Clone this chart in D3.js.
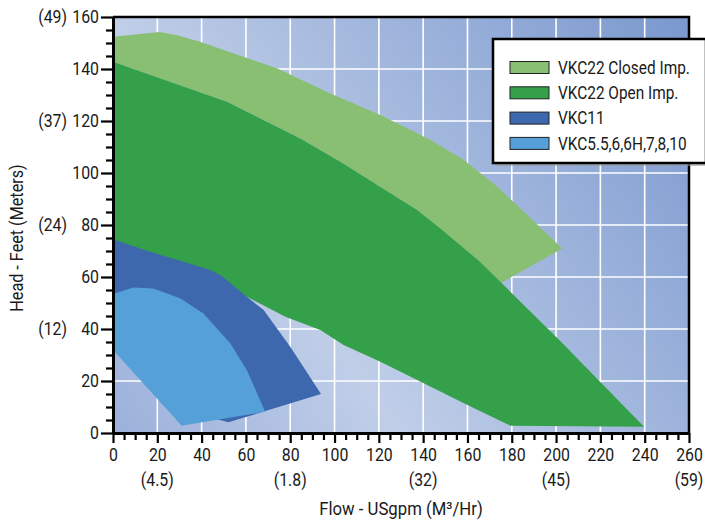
<!DOCTYPE html>
<html>
<head>
<meta charset="utf-8">
<script src="https://cdn.jsdelivr.net/npm/d3@7"></script>
<style>
  html, body { margin: 0; padding: 0; background: #ffffff; }
  svg { display: block; }
  text { font-family: "Roboto", "Liberation Sans", sans-serif; fill: #1a1a1a; }
</style>
</head>
<body>
<svg id="chart" width="705" height="525"></svg>
<script>
// ---------- data ----------
const seriesNames = ["VKC22 Closed Imp.", "VKC22 Open Imp.", "VKC11", "VKC5.5,6,6H,7,8,10"];
const seriesColors = ["#88bf72", "#35a04a", "#3d68ae", "#55a0d8"];

// polygons as [flow (USgpm), head (feet)]
const closedImp = [[0,152.4],[21,154.2],[29,153],[39.3,150.5],[58.8,144.7],[74,140.3],[98.1,130.6],
  [120.7,122.3],[143.3,112.7],[158.4,105],[173.5,94.7],[202.8,71],[175,57.6],
  [165.5,66],[137.3,85.8],[102.6,104.3],[84.5,113.3],[51.4,127.4],[0,142.8]];
const openImp = [[0,142.8],[51.4,127.4],[84.5,113.3],[102.6,104.3],[137.3,85.8],[148,78.5],[165.5,66],
  [202,35.3],[239.7,2.4],[179.5,2.8],[160,10.8],[120.7,27.4],[104.1,33.8],[93.6,39.6],[77.8,44.7],
  [60.4,52.4],[40,60],[0,72]];
const vkc11 = [[0,74.5],[16.7,69.7],[31.8,65.9],[43.9,62.7],[49.1,60.4],[60.4,52.4],[68,47.3],
  [80,33.2],[93.9,15],[52.1,4.1],[35,8],[0,40]];
const vkc55 = [[0,53.5],[9.2,56],[18.2,55.6],[30.3,51.8],[40.8,46],[52.9,34.5],[60.4,24.2],
  [68.7,8.2],[31,2.8],[0,31.9]];
const polygons = [closedImp, openImp, vkc11, vkc55];

const xTicks = [0,20,40,60,80,100,120,140,160,180,200,220,240,260];
const yTicks = [0,20,40,60,80,100,120,140,160];
const xMetric = [[20,"(4.5)"],[80,"(1.8)"],[140,"(32)"],[200,"(45)"],[260,"(59)"]];
const yMetric = [[160,"(49)"],[120,"(37)"],[80,"(24)"],[40,"(12)"]];
const xTitle = "Flow - USgpm (M³/Hr)";
const yTitle = "Head - Feet (Meters)";

// ---------- helpers ----------
// narrow the glyphs horizontally (the reference uses a condensed face)
function condense(sel, f) {
  sel.each(function() {
    const t = d3.select(this);
    const tx = +t.attr("x") || 0, ty = +t.attr("y") || 0;
    const prev = t.attr("transform") || "";
    t.attr("x", 0).attr("y", 0)
     .attr("transform", `${prev} translate(${tx},${ty}) scale(${f},1)`);
  });
}

// ---------- layout ----------
const svg = d3.select("#chart");
const x = d3.scaleLinear().domain([0,260]).range([113,689]);
const y = d3.scaleLinear().domain([0,160]).range([433,17]);

const defs = svg.append("defs");
const grad = defs.append("linearGradient").attr("id","bg")
  .attr("gradientUnits","userSpaceOnUse")
  .attr("x1",113).attr("y1",433).attr("x2",698).attr("y2",29);
grad.append("stop").attr("offset",0).attr("stop-color","#9cb0da");
grad.append("stop").attr("offset",0.33).attr("stop-color","#c0cee8");
grad.append("stop").attr("offset",1).attr("stop-color","#7a98ce");
defs.append("clipPath").attr("id","plotclip").append("rect")
  .attr("x",x(0)).attr("y",y(160)).attr("width",x(260)-x(0)).attr("height",y(0)-y(160));

svg.append("rect").attr("x",x(0)).attr("y",y(160))
  .attr("width",x(260)-x(0)).attr("height",y(0)-y(160)).attr("fill","url(#bg)");

// grid
const grid = svg.append("g").attr("stroke","#ffffff").attr("stroke-width",1.6);
grid.selectAll("line.v").data(xTicks.filter(d=>d>0 && d<260)).join("line")
  .attr("x1",d=>x(d)).attr("x2",d=>x(d)).attr("y1",y(0)).attr("y2",y(160));
grid.selectAll("line.h").data(yTicks.filter(d=>d>0 && d<160)).join("line")
  .attr("y1",d=>y(d)).attr("y2",d=>y(d)).attr("x1",x(0)).attr("x2",x(260));

// polygons
const line = d3.line().x(d=>x(d[0])).y(d=>y(d[1])).curve(d3.curveLinearClosed);
svg.append("g").attr("clip-path","url(#plotclip)")
  .selectAll("path").data(polygons).join("path")
  .attr("d", d=>line(d))
  .attr("fill",(d,i)=>seriesColors[i]);

// border top/right
svg.append("path")
  .attr("d",`M${x(0)},${y(160)}H${x(260)}V${y(0)}`)
  .attr("fill","none").attr("stroke","#000").attr("stroke-width",2.5);

// axes
const minorX = d3.range(0,261,5).filter(d=>d%20!==0);
const minorY = d3.range(0,161,5).filter(d=>d%20!==0);

const gx = svg.append("g").attr("transform",`translate(0,${y(0)})`);
gx.call(d3.axisBottom(x).tickValues(xTicks).tickSize(10).tickSizeOuter(0).tickPadding(5));
gx.append("g").call(d3.axisBottom(x).tickValues(minorX).tickSize(7).tickFormat(""))
  .select(".domain").remove();
gx.selectAll(".domain").attr("stroke","#000").attr("stroke-width",3);
gx.selectAll(".tick line").attr("stroke","#000").attr("stroke-width",2.2);
gx.selectAll(".tick text").filter(function(){ return this.textContent !== ""; })
  .attr("font-size",18).attr("fill","#1a1a1a")
  .attr("font-family","Roboto, sans-serif").call(condense, 0.88);

const gy = svg.append("g").attr("transform",`translate(${x(0)},0)`);
gy.call(d3.axisLeft(y).tickValues(yTicks).tickSize(12).tickSizeOuter(0).tickPadding(2));
gy.append("g").call(d3.axisLeft(y).tickValues(minorY).tickSize(7).tickFormat(""))
  .select(".domain").remove();
gy.selectAll(".domain").attr("stroke","#000").attr("stroke-width",3);
gy.selectAll(".tick line").attr("stroke","#000").attr("stroke-width",2.2);
gy.selectAll(".tick text").filter(function(){ return this.textContent !== ""; })
  .attr("font-size",18).attr("fill","#1a1a1a")
  .attr("font-family","Roboto, sans-serif").call(condense, 0.88);

// metric labels
svg.append("g").selectAll("text").data(xMetric).join("text")
  .attr("x",d=>x(d[0])).attr("y",486).attr("text-anchor","middle")
  .attr("font-size",18).text(d=>d[1]).call(condense, 0.88);
svg.append("g").selectAll("text").data(yMetric).join("text")
  .attr("x",67).attr("y",d=>y(d[0])).attr("dy","0.34em").attr("text-anchor","end")
  .attr("font-size",18).text(d=>d[1]).call(condense, 0.88);

// titles
svg.append("text").attr("x",(x(0)+x(260))/2).attr("y",515).attr("text-anchor","middle")
  .attr("font-size",18).text(xTitle).call(condense, 0.93);
svg.append("text").attr("transform",`translate(23,238) rotate(-90)`).attr("text-anchor","middle")
  .attr("font-size",18).text(yTitle).call(condense, 0.9);

// legend
const lg = svg.append("g");
lg.append("rect").attr("x",495).attr("y",41).attr("width",212).attr("height",125).attr("fill","#9a9a9a").attr("opacity",0.6);
lg.append("rect").attr("x",493).attr("y",39).attr("width",213).attr("height",124)
  .attr("fill","#fff").attr("stroke","#000").attr("stroke-width",2.5);
const items = lg.selectAll("g.item").data(seriesNames).join("g")
  .attr("transform",(d,i)=>`translate(0,${67.5 + i*25.3})`);
items.append("rect").attr("x",510).attr("y",-6).attr("width",39).attr("height",12)
  .attr("fill",(d,i)=>seriesColors[i]).attr("stroke","#222").attr("stroke-width",1);
items.append("text").attr("x",558).attr("y",0).attr("dy","0.35em")
  .attr("font-size",17.5).text(d=>d).call(condense, 0.88);
</script>
</body>
</html>
